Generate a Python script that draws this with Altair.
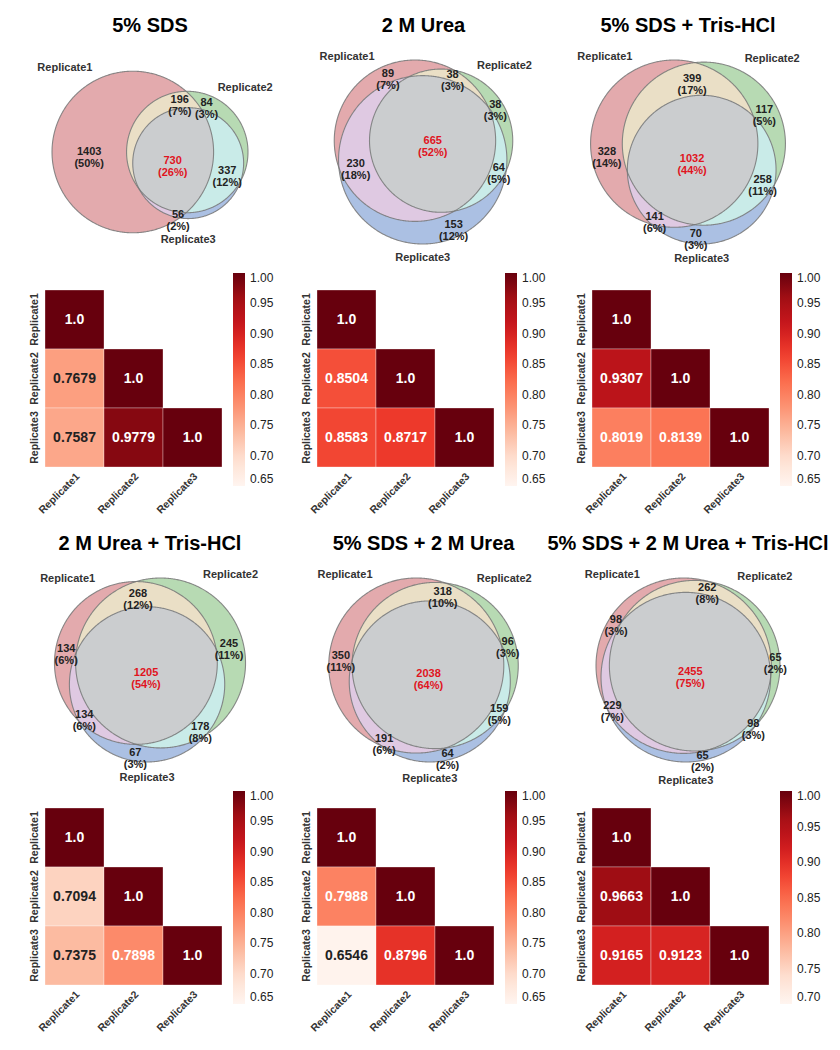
import math
import numpy as np
import pandas as pd
import altair as alt

FONT = "Liberation Sans"

# ---------------- data ----------------
titles = ["5% SDS", "2 M Urea", "5% SDS + Tris-HCl",
          "2 M Urea + Tris-HCl", "5% SDS + 2 M Urea", "5% SDS + 2 M Urea + Tris-HCl"]
set_names = ["Replicate1", "Replicate2", "Replicate3"]

# Venn regions, order: R1 only, R2 only, R1&R2, R3 only, R1&R3, R2&R3, R1&R2&R3
region_keys = ["100", "010", "110", "001", "101", "011", "111"]
counts_sds = [1403, 84, 196, None, 56, 337, 730]
pcts_sds = [50, 3, 7, None, 2, 12, 26]
counts_urea = [89, 38, 38, 153, 230, 64, 665]
pcts_urea = [7, 3, 3, 12, 18, 5, 52]
counts_sds_tris = [328, 117, 399, 70, 141, 258, 1032]
pcts_sds_tris = [14, 5, 17, 3, 6, 11, 44]
counts_urea_tris = [134, 245, 268, 67, 134, 178, 1205]
pcts_urea_tris = [6, 11, 12, 3, 6, 8, 54]
counts_sds_urea = [350, 96, 318, 64, 191, 159, 2038]
pcts_sds_urea = [11, 3, 10, 2, 6, 5, 64]
counts_all = [98, 65, 262, 65, 229, 98, 2455]
pcts_all = [3, 2, 8, 2, 7, 3, 75]

# correlation heatmaps (lower triangle)
heat_rows = ["Replicate1", "Replicate2", "Replicate2", "Replicate3", "Replicate3", "Replicate3"]
heat_cols = ["Replicate1", "Replicate1", "Replicate2", "Replicate1", "Replicate2", "Replicate3"]
corr_sds = [1.0, 0.7679, 1.0, 0.7587, 0.9779, 1.0]
corr_urea = [1.0, 0.8504, 1.0, 0.8583, 0.8717, 1.0]
corr_sds_tris = [1.0, 0.9307, 1.0, 0.8019, 0.8139, 1.0]
corr_urea_tris = [1.0, 0.7094, 1.0, 0.7375, 0.7898, 1.0]
corr_sds_urea = [1.0, 0.7988, 1.0, 0.6546, 0.8796, 1.0]
corr_all = [1.0, 0.9663, 1.0, 0.9165, 0.9123, 1.0]
cbar_min = [0.65, 0.65, 0.65, 0.65, 0.65, 0.70]
cbar_ticks_a = [0.65, 0.70, 0.75, 0.80, 0.85, 0.90, 0.95, 1.00]
cbar_ticks_b = [0.70, 0.75, 0.80, 0.85, 0.90, 0.95, 1.00]

venn_counts = [counts_sds, counts_urea, counts_sds_tris, counts_urea_tris, counts_sds_urea, counts_all]
venn_pcts = [pcts_sds, pcts_urea, pcts_sds_tris, pcts_urea_tris, pcts_sds_urea, pcts_all]
corrs = [corr_sds, corr_urea, corr_sds_tris, corr_urea_tris, corr_sds_urea, corr_all]

# ---------------- styles / layout ----------------
FILL = {"100": "#e3aaad", "010": "#b7dab3", "001": "#abc0e3",
        "110": "#eadfc6", "101": "#dfc9e2", "011": "#c9ebe8", "111": "#cbcdcf"}
# matplotlib "Reds" colour stops
REDS = ["#fff5f0", "#fee0d2", "#fcbba1", "#fc9272", "#fb6a4a", "#ef3b2c", "#cb181d", "#a50f15", "#67000d"]
VENN_W = [210, 213, 192]   # venn panel widths per column (flush layout)
VH = 159                   # venn panel height (flush layout)
VC = 112                   # diagram centre, px below panel top
BOX_W, BOX_H = 196, 184    # box the diagram is fitted into
HW = 177                   # heatmap size


# ---------------- area-proportional venn layout ----------------
def lens_area(r1, r2, d):
    if d >= r1 + r2:
        return 0.0
    if d <= abs(r1 - r2):
        return math.pi * min(r1, r2) ** 2
    a1 = r1 * r1 * math.acos((d * d + r1 * r1 - r2 * r2) / (2 * d * r1))
    a2 = r2 * r2 * math.acos((d * d + r2 * r2 - r1 * r1) / (2 * d * r2))
    a3 = 0.5 * math.sqrt(max(0.0, (-d + r1 + r2) * (d + r1 - r2) * (d - r1 + r2) * (d + r1 + r2)))
    return a1 + a2 - a3


def dist_for_area(r1, r2, a):
    lo, hi = abs(r1 - r2), r1 + r2
    if a <= 1e-9:
        return hi
    if a >= math.pi * min(r1, r2) ** 2 - 1e-9:
        return lo
    for _ in range(80):
        mid = (lo + hi) / 2
        if lens_area(r1, r2, mid) > a:
            lo = mid
        else:
            hi = mid
    return (lo + hi) / 2


def venn_layout(counts):
    v = [c or 0 for c in counts]
    tot = float(sum(v))
    Abc, aBc, ABc, abC, AbC, aBC, ABC = [x / tot for x in v]
    areas = np.array([Abc + ABc + AbC + ABC, aBc + ABc + aBC + ABC, abC + AbC + aBC + ABC])
    r = np.sqrt(areas / math.pi)
    d = [dist_for_area(r[0], r[1], ABc + ABC),
         dist_for_area(r[1], r[2], aBC + ABC),
         dist_for_area(r[2], r[0], AbC + ABC)]
    for i in range(3):
        j, k = (i + 1) % 3, (i + 2) % 3
        if d[i] > d[j] + d[k]:
            a, b = (j, k) if d[j] < d[k] else (k, j)
            d[i] = d[b] + d[a] * 0.8
    dab, dbc, dac = max(d[0], 1e-6), d[1], d[2]
    cg = (dab ** 2 + dac ** 2 - dbc ** 2) / (2 * dab * max(dac, 1e-9))
    cg = max(-1.0, min(1.0, cg))
    sg = math.sqrt(1 - cg * cg)
    cen = np.array([[0.0, 0.0], [dab, 0.0], [dac * cg, -dac * sg]])
    w = r ** 2
    cen = cen - (w @ cen) / w.sum()
    return cen, r


THETA = np.linspace(0, 2 * np.pi, 541)[:-1]


def circle_pts(c, r):
    return np.c_[c[0] + r * np.cos(THETA), c[1] + r * np.sin(THETA)]


def intersection_poly(cen, r, ks):
    pts = []
    for k in ks:
        p = circle_pts(cen[k], r[k])
        ok = np.ones(len(p), bool)
        for m in ks:
            if m != k:
                ok &= np.hypot(p[:, 0] - cen[m][0], p[:, 1] - cen[m][1]) <= r[m]
        pts.append(p[ok])
    pts = np.vstack(pts)
    if len(pts) < 3:
        return None
    c = pts.mean(0)
    ang = np.arctan2(pts[:, 1] - c[1], pts[:, 0] - c[0])
    return pts[np.argsort(ang)]


def label_positions(cen, r):
    x0, x1 = (cen[:, 0] - r).min(), (cen[:, 0] + r).max()
    y0, y1 = (cen[:, 1] - r).min(), (cen[:, 1] + r).max()
    X, Y = np.meshgrid(np.linspace(x0, x1, 360), np.linspace(y0, y1, 360))
    dist = [np.hypot(X - cen[k][0], Y - cen[k][1]) for k in range(3)]
    inside = [dist[k] < r[k] for k in range(3)]
    edge = np.min([np.abs(dist[k] - r[k]) for k in range(3)], axis=0)
    out = {}
    for key in region_keys:
        mask = np.ones_like(X, bool)
        for k in range(3):
            mask &= inside[k] == (key[k] == "1")
        if not mask.any():
            out[key] = None
            continue
        idx = np.argmax(np.where(mask, edge, -1.0))
        out[key] = (X.flat[idx], Y.flat[idx])
    return out


def venn_panel(i):
    counts, pcts = venn_counts[i], venn_pcts[i]
    W = VENN_W[i % 3]
    cen, r = venn_layout(counts)
    x0, x1 = (cen[:, 0] - r).min(), (cen[:, 0] + r).max()
    y0, y1 = (cen[:, 1] - r).min(), (cen[:, 1] + r).max()
    s = min(BOX_W / (x1 - x0), BOX_H / (y1 - y0))
    mx, my = (x0 + x1) / 2, (y0 + y1) / 2
    xsc = alt.Scale(domain=[mx - W / 2 / s, mx + W / 2 / s], nice=False, zero=False)
    ysc = alt.Scale(domain=[my - (VH - VC) / s, my + VC / s], nice=False, zero=False)
    X = alt.X("x:Q", scale=xsc, axis=None)
    Y = alt.Y("y:Q", scale=ysc, axis=None)

    def poly_rows(shapes):
        rows = []
        for sid, (pts, colr) in enumerate(shapes):
            for k, (px, py) in enumerate(pts):
                rows.append({"sid": sid, "k": k, "x": px, "y": py, "fill": colr})
        return pd.DataFrame(rows)

    base_shapes = [(circle_pts(cen[k], r[k]), FILL[key]) for k, key in enumerate(["100", "010", "001"])]
    pair_shapes = []
    for ks, key in [((0, 1), "110"), ((0, 2), "101"), ((1, 2), "011")]:
        p = intersection_poly(cen, r, ks)
        if p is not None:
            pair_shapes.append((p, FILL[key]))
    tri = intersection_poly(cen, r, (0, 1, 2))
    tri_shapes = [(tri, FILL["111"])] if tri is not None else []

    def fill_layer(shapes):
        return alt.Chart(poly_rows(shapes)).mark_line(filled=True, strokeWidth=0).encode(
            X, Y, detail="sid:N", order="k:Q", color=alt.Color("fill:N", scale=None))

    outline_shapes = []
    for k in range(3):
        p = circle_pts(cen[k], r[k])
        outline_shapes.append((np.vstack([p, p[:1]]), "#707070"))
    outline = alt.Chart(poly_rows(outline_shapes)).mark_line(
        strokeWidth=1.1, color="#777777", opacity=0.85).encode(X, Y, detail="sid:N", order="k:Q")

    pos = label_positions(cen, r)
    lab_rows = []
    for key, c, p in zip(region_keys, counts, pcts):
        if c is None or pos[key] is None:
            continue
        lab_rows.append({"x": pos[key][0], "y": pos[key][1], "t": f"{c}\n({p}%)",
                         "c": "#e0141e" if key == "111" else "#222222"})
    labels = alt.Chart(pd.DataFrame(lab_rows)).mark_text(
        font=FONT, fontSize=11, fontWeight="bold", lineBreak="\n", lineHeight=12).encode(
        X, Y, text="t:N", color=alt.Color("c:N", scale=None))

    # bottom set label: below circle C, pushed down clear of any region label
    cx_lab = cen[2][0]
    cy_lab = cen[2][1] - r[2] - 8 / s
    for row in lab_rows:
        if abs(row["x"] - cx_lab) < 48 / s:
            cy_lab = min(cy_lab, row["y"] - 19 / s)

    set_layers = []
    set_pos = [(cen[0][0] - r[0] / 2, cen[0][1] + r[0], "right", "alphabetic"),
               (cen[1][0] + r[1] / 2, cen[1][1] + r[1], "left", "alphabetic"),
               (cx_lab, cy_lab, "center", "top")]
    for name, (sx, sy, al, bl) in zip(set_names, set_pos):
        set_layers.append(alt.Chart(pd.DataFrame({"x": [sx], "y": [sy], "t": [name]})).mark_text(
            font=FONT, fontSize=11, fontWeight="bold", color="#333333", align=al, baseline=bl).encode(
            X, Y, text="t:N"))

    layers = [fill_layer(base_shapes), fill_layer(pair_shapes)]
    if tri_shapes:
        layers.append(fill_layer(tri_shapes))
    layers += [outline, labels] + set_layers
    return alt.layer(*layers).properties(
        width=W, height=VH,
        title=alt.TitleParams(titles[i], font=FONT, fontSize=20, fontWeight="bold",
                              color="black", anchor="middle", offset=4))


def heat_panel(i):
    vals = corrs[i]
    lo = cbar_min[i]
    thr = lo + 0.385 * (1.0 - lo)
    df = pd.DataFrame({"row": heat_rows, "col": heat_cols, "v": vals, "lab": [str(v) for v in vals]})
    ticks = cbar_ticks_a if lo < 0.67 else cbar_ticks_b
    stops = list(np.linspace(lo, 1.0, len(REDS)))
    xax = alt.Axis(title=None, labelAngle=315, labelAlign="right", labelBaseline="top", labelPadding=4,
                   ticks=False, domain=False, labelFont=FONT, labelFontSize=10.5, labelFontWeight="bold",
                   labelColor="#333333")
    yax = alt.Axis(title=None, labelAngle=270, labelAlign="center", labelBaseline="bottom", labelPadding=6,
                   ticks=False, domain=False, labelFont=FONT, labelFontSize=10.5, labelFontWeight="bold",
                   labelColor="#333333", minExtent=37, maxExtent=37)
    base = alt.Chart(df).encode(
        x=alt.X("col:N", scale=alt.Scale(domain=set_names, paddingInner=0, paddingOuter=0), axis=xax),
        y=alt.Y("row:N", scale=alt.Scale(domain=set_names, paddingInner=0, paddingOuter=0), axis=yax))
    rect = base.mark_rect(stroke="white", strokeWidth=0.7, strokeOpacity=0.45).encode(
        color=alt.Color("v:Q", scale=alt.Scale(domain=stops, range=REDS, interpolate="rgb", clamp=True),
                        legend=alt.Legend(title=None, orient="none", legendX=HW + 11, legendY=-17,
                                          direction="vertical", gradientLength=213, gradientThickness=12,
                                          gradientStrokeWidth=0, values=ticks, format=".2f",
                                          labelFont=FONT, labelFontSize=12, labelColor="#222222",
                                          labelOffset=5, labelBaseline="middle", labelOverlap=False)))
    text = base.mark_text(font=FONT, fontSize=14, fontWeight="bold").encode(
        text="lab:N",
        color=alt.condition(f"datum.v > {thr}", alt.value("white"), alt.value("#222222")))
    return alt.layer(rect, text).properties(width=HW, height=HW)


venns = [venn_panel(i) for i in range(6)]
heats = [heat_panel(i) for i in range(6)]

panels = venns[0:3] + heats[0:3] + venns[3:6] + heats[3:6]
chart = alt.concat(
    *panels, columns=3, spacing={"row": 91, "column": 62}, bounds="flush", align="none"
).resolve_scale(
    x="independent", y="independent", color="independent"
).resolve_legend(color="independent").configure(
    padding={"left": 0, "top": 8, "right": 0, "bottom": 0}, background="white"
).configure_view(strokeWidth=0)

chart.save("out.html", embed_options={"renderer": "svg", "actions": False})
